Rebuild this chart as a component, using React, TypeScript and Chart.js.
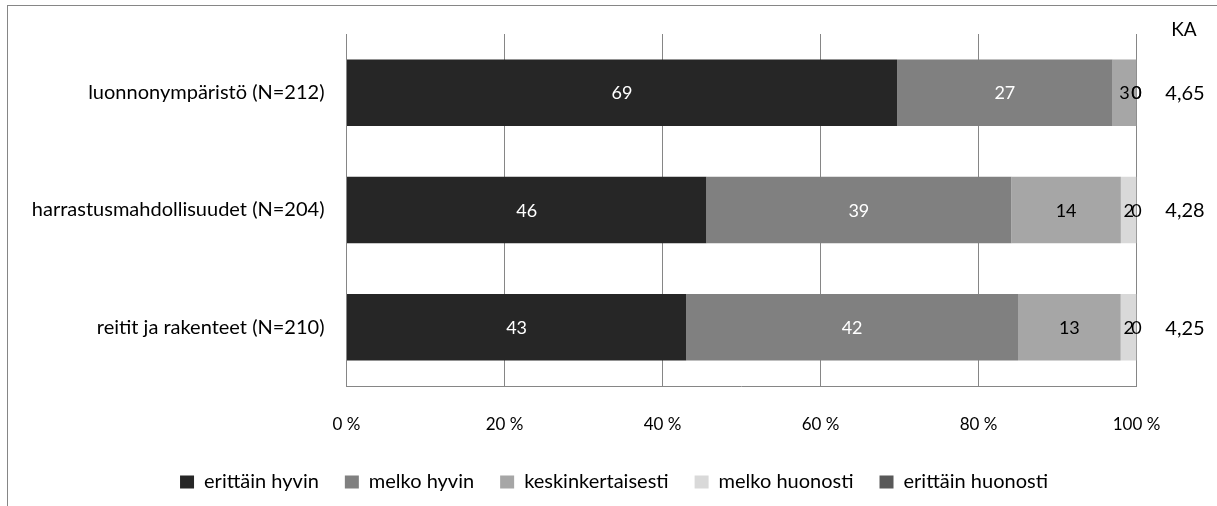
import React, { useEffect, useRef } from "react";
import { Chart, registerables } from "chart.js";

Chart.register(...registerables);

const categories = [
  "luonnonympäristö (N=212)",
  "harrastusmahdollisuudet (N=204)",
  "reitit ja rakenteet (N=210)",
];
const seriesNames = [
  "erittäin hyvin",
  "melko hyvin",
  "keskinkertaisesti",
  "melko huonosti",
  "erittäin huonosti",
];
const erittainHyvin = [69, 46, 43];
const melkoHyvin = [27, 39, 42];
const keskinkertaisesti = [3, 14, 13];
const melkoHuonosti = [0, 2, 2];
const erittainHuonosti = [0, 0, 0];
const kaValues = [4.65, 4.28, 4.25];
const kaTitle = "KA";
const xTicks = [0, 20, 40, 60, 80, 100];

const seriesColors = ["#262626", "#808080", "#a6a6a6", "#d9d9d9", "#595959"];
const labelColors = ["#ffffff", "#ffffff", "#000000", "#000000", "#000000"];
const FONT = "Lato, 'Open Sans', sans-serif";
const LINE = "#868686";

export default function App() {
  const ref = useRef<HTMLCanvasElement | null>(null);

  useEffect(() => {
    document.body.style.margin = "0";
    const canvas = ref.current;
    if (!canvas) return;
    const raw = [erittainHyvin, melkoHyvin, keskinkertaisesti, melkoHuonosti, erittainHuonosti];
    const sums = categories.map((_, i) => raw.reduce((s, arr) => s + arr[i], 0));

    const frame = {
      id: "frame",
      beforeDraw(chart: any) {
        const ctx = chart.ctx;
        ctx.save();
        ctx.fillStyle = "#ffffff";
        ctx.fillRect(0, 0, chart.width, chart.height);
        ctx.strokeStyle = LINE;
        ctx.lineWidth = 1;
        ctx.strokeRect(7.5, 5.5, chart.width + 50, chart.height + 50);
        ctx.restore();
      },
    };

    const legendShift = {
      id: "legendShift",
      afterLayout(chart: any) {
        const lg = chart.legend;
        if (!lg) return;
        lg.left = 91.5;
        lg.right = chart.chartArea.right;
        lg.width = lg.right - lg.left;
      },
    };

    const labels = {
      id: "valueLabels",
      afterDatasetsDraw(chart: any) {
        const ctx = chart.ctx;
        ctx.save();
        ctx.font = `18px ${FONT}`;
        ctx.textAlign = "center";
        ctx.textBaseline = "middle";
        chart.data.datasets.forEach((ds: any, di: number) => {
          const meta = chart.getDatasetMeta(di);
          meta.data.forEach((el: any, i: number) => {
            const p = el.getProps(["x", "base", "y"], true);
            ctx.fillStyle = labelColors[di];
            ctx.fillText(String(ds.rawValues[i]), (p.x + p.base) / 2, p.y + 1);
          });
        });
        // KA column
        const yScale = chart.scales.y;
        ctx.fillStyle = "#000000";
        ctx.font = `19px ${FONT}`;
        ctx.fillText(kaTitle, 1184, 30);
        ctx.font = `20px ${FONT}`;
        kaValues.forEach((v, i) => {
          ctx.fillText(v.toFixed(2).replace(".", ","), 1185, yScale.getPixelForValue(i) + 1);
        });
        ctx.restore();
      },
    };

    const chart = new Chart(canvas, {
      type: "bar",
      data: {
        labels: categories,
        datasets: raw.map((arr, di) => ({
          label: seriesNames[di],
          data: arr.map((v, i) => (v / sums[i]) * 100),
          rawValues: arr,
          backgroundColor: seriesColors[di],
          borderWidth: 0,
          barPercentage: 0.567,
          categoryPercentage: 1,
        })) as any,
      },
      options: {
        indexAxis: "y",
        animation: false,
        responsive: false,
        devicePixelRatio: 1,
        layout: { padding: { left: 8, right: 80.5, top: 26, bottom: 4 } },
        plugins: {
          tooltip: { enabled: false },
          legend: {
            position: "bottom",
            labels: {
              font: { family: FONT, size: 20 },
              color: "#000000",
              boxWidth: 14,
              boxHeight: 13,
              padding: 26,
            },
          },
        },
        scales: {
          x: {
            stacked: true,
            min: 0,
            max: 100,
            afterBuildTicks(scale: any) {
              scale.ticks = xTicks.map((v) => ({ value: v }));
            },
            afterFit(scale: any) {
              scale.height = 60;
            },
            ticks: {
              font: { family: FONT, size: 17 },
              color: "#000000",
              padding: 28,
              maxRotation: 0,
              callback: (v: any) => `${v} %`,
            },
            grid: { color: LINE, drawTicks: false },
            border: { color: LINE },
          },
          y: {
            stacked: true,
            afterFit(scale: any) {
              scale.width = 338.5;
            },
            ticks: {
              font: { family: FONT, size: 20 },
              color: "#000000",
              padding: 22,
            },
            grid: { display: false, drawTicks: false },
            border: { color: LINE },
          },
        },
      },
      plugins: [frame, legendShift, labels],
    } as any);
    return () => chart.destroy();
  }, []);

  return <canvas ref={ref} width={1217} height={506} style={{ display: "block" }} />;
}
